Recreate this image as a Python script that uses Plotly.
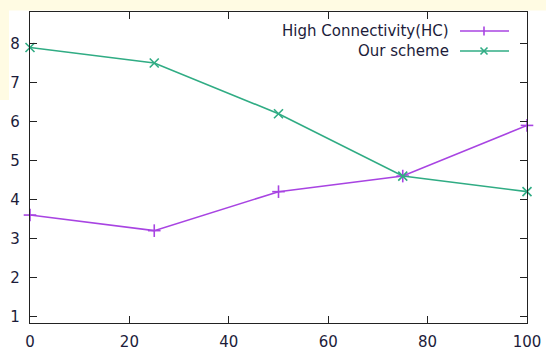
import plotly.graph_objects as go

x_vals = [0, 25, 50, 75, 100]
hc_vals = [3.6, 3.2, 4.2, 4.6, 5.9]
ours_vals = [7.9, 7.5, 6.2, 4.6, 4.2]
series_names = ["High Connectivity(HC)", "Our scheme"]
x_ticks = [0, 20, 40, 60, 80, 100]
y_ticks = [1, 2, 3, 4, 5, 6, 7, 8]

purple = "#a844e2"
green = "#30ac84"
txt = "#1c1c3a"
font = "DejaVu Sans"
fsize = 15

fig = go.Figure()
fig.add_trace(go.Scatter(x=x_vals, y=hc_vals, mode="lines+markers", name=series_names[0],
                         line=dict(color=purple, width=1.6),
                         marker=dict(symbol="line-ns", size=9, line=dict(color=purple, width=1.6)),
                         showlegend=False, cliponaxis=False))
fig.add_trace(go.Scatter(x=x_vals, y=hc_vals, mode="markers", showlegend=False,
                         marker=dict(symbol="line-ew", size=9, line=dict(color=purple, width=1.6)),
                         cliponaxis=False, hoverinfo="skip"))
fig.add_trace(go.Scatter(x=x_vals, y=ours_vals, mode="lines+markers", name=series_names[1],
                         line=dict(color=green, width=1.6),
                         marker=dict(symbol="x-thin", size=9, line=dict(color=green, width=1.6)),
                         showlegend=False, cliponaxis=False))

# gnuplot-style legend: right-aligned text, sample to the right
PW, PH = 497, 311
cx = (484 - 30) / PW
legend_rows = [(series_names[0], purple, "+", 1 - (31 - 12) / PH),
               (series_names[1], green, "x", 1 - (51 - 12) / PH)]
for name, col, sym, yp in legend_rows:
    fig.add_annotation(x=(451 - 30) / PW, y=yp, xref="paper", yref="paper", text=name,
                       showarrow=False, xanchor="right", yanchor="middle",
                       font=dict(family=font, size=fsize, color=txt))
    fig.add_shape(type="line", xref="paper", yref="paper",
                  x0=(460 - 30) / PW, x1=(509 - 30) / PW, y0=yp, y1=yp,
                  line=dict(color=col, width=1.6))
    if sym == "+":
        fig.add_shape(type="line", xref="paper", yref="paper", x0=cx, x1=cx,
                      y0=yp - 4.5 / PH, y1=yp + 4.5 / PH, line=dict(color=col, width=1.6))
    else:
        for s in (1, -1):
            fig.add_shape(type="line", xref="paper", yref="paper",
                          x0=cx - 3.5 / PW, x1=cx + 3.5 / PW,
                          y0=yp - s * 3.5 / PH, y1=yp + s * 3.5 / PH,
                          line=dict(color=col, width=1.6))

# cream strips from the original screenshot
fig.add_shape(type="rect", xref="paper", yref="paper", x0=-0.07, x1=1.05,
              y0=1 + 1.5 / PH, y1=1 + 13 / PH, fillcolor="#fffbe3", line_width=0, layer="below")
fig.add_shape(type="rect", xref="paper", yref="paper", x0=-0.07, x1=(9 - 30) / PW,
              y0=(323 - 100) / PH, y1=1 + 13 / PH, fillcolor="#fffbe3", line_width=0, layer="below")

axis_common = dict(showgrid=False, zeroline=False, showline=True, linecolor="#222222", linewidth=1.3,
                   mirror="ticks", ticks="inside", ticklen=7, tickwidth=1, tickcolor="#222222",
                   automargin=False, tickfont=dict(family=font, size=fsize, color=txt))
fig.update_xaxes(range=[0, 100], tickvals=x_ticks, ticklabelstandoff=5, **axis_common)
fig.update_yaxes(range=[0.83, 8.81], tickvals=y_ticks, ticklabelstandoff=6, **axis_common)

fig.update_layout(width=546, height=351, margin=dict(l=30, r=19, t=12, b=28, autoexpand=False),
                  paper_bgcolor="white", plot_bgcolor="white", showlegend=False,
                  font=dict(family=font, size=fsize, color=txt))
fig.write_html("out.html", config={"displayModeBar": False},
               post_script="document.body.style.margin='0';document.body.style.overflow='hidden';")
